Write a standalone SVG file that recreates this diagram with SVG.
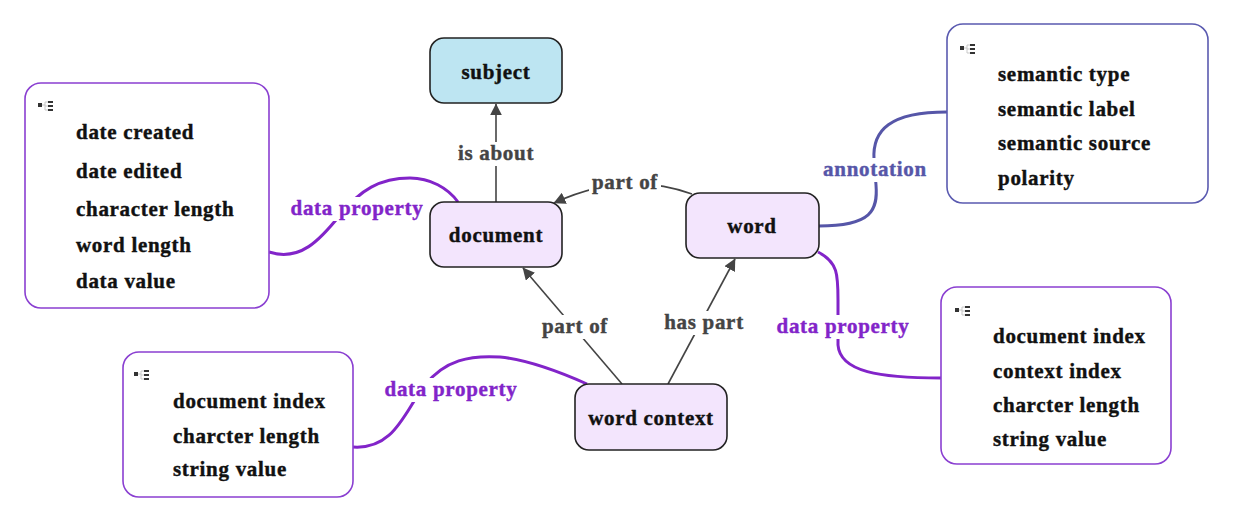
<svg xmlns="http://www.w3.org/2000/svg" width="1233" height="524" viewBox="0 0 1233 524">
<style>
text{font-family:"Liberation Serif","Times New Roman",serif;font-weight:bold;font-size:21px;letter-spacing:0.7px}
.node rect{stroke:#222;stroke-width:1.6}
.nt{text-anchor:middle;fill:#111;stroke:#111;stroke-width:0.4}
.box{fill:#fff;stroke-width:1.6}
.pb{stroke:#8a3fd1}
.bb{stroke:#5a5ab0}
.it{fill:#111;stroke:#111;stroke-width:0.4}
.bg{fill:#fff}
.lbl{text-anchor:middle;stroke-width:0.4}
.gl{fill:#444;stroke:#444}
.pl{fill:#8224c9;stroke:#8224c9}
.bl{fill:#5656a8;stroke:#5656a8}
.e{fill:none;stroke:#444;stroke-width:1.6}
.pe{fill:none;stroke:#8224c9;stroke-width:3}
.be{fill:none;stroke:#5656a8;stroke-width:3}
</style>
<defs>
<marker id="arr" viewBox="0 0 10 10" refX="9.5" refY="5" markerWidth="12" markerHeight="12" markerUnits="userSpaceOnUse" orient="auto">
<path d="M0,0 L10,5 L0,10 z" fill="#444"/>
</marker>
<g id="icon">
<rect x="0" y="2" width="4" height="4" fill="#333"/>
<path d="M4,4 H7 M7,1 V9 M7,1 H10 M7,5 H10 M7,9 H10" stroke="#bbb" stroke-width="0.8" fill="none"/>
<rect x="10" y="0" width="5" height="2" fill="#333"/>
<rect x="10" y="4" width="5" height="2" fill="#333"/>
<rect x="10" y="8" width="5" height="2" fill="#333"/>
</g>
</defs>

<g id="connectors">
<path class="e" d="M496,202 V104" marker-end="url(#arr)"/>
<path class="e" d="M692,194 Q625,170 554,203" marker-end="url(#arr)"/>
<path class="e" d="M622,384 L523,268" marker-end="url(#arr)"/>
<path class="e" d="M668,384 L735,259" marker-end="url(#arr)"/>
<path class="pe" d="M269,252 C300,262 320,240 340,215 C360,190 380,178 410,178 C430,178 448,188 458,202"/>
<path class="pe" d="M353,447 C395,450 405,410 425,385 C445,360 470,355 500,357 C530,360 560,372 587,384"/>
<path class="pe" d="M818,252 C838,262 838,275 838,300 L838,345 C840,372 880,378 941,378"/>
<path class="be" d="M819,226 C872,226 878,210 876,185 L874,160 C872,130 890,112 947,112"/>
<rect class="bg" x="457" y="142" width="78" height="24"/>
<rect class="bg" x="589" y="171" width="72" height="24"/>
<rect class="bg" x="539" y="315" width="72" height="24"/>
<rect class="bg" x="662" y="311" width="84" height="24"/>
<rect class="bg" x="289" y="197" width="136" height="24"/>
<rect class="bg" x="383" y="378" width="136" height="24"/>
<rect class="bg" x="775" y="315" width="136" height="24"/>
<rect class="bg" x="820" y="158" width="110" height="24"/>
<text class="lbl gl" x="496" y="160">is about</text>
<text class="lbl gl" x="625" y="189">part of</text>
<text class="lbl gl" x="575" y="333">part of</text>
<text class="lbl gl" x="704" y="329">has part</text>
<text class="lbl pl" x="357" y="215">data property</text>
<text class="lbl pl" x="451" y="396">data property</text>
<text class="lbl pl" x="843" y="333">data property</text>
<text class="lbl bl" x="875" y="176">annotation</text>
</g>

<g id="subject" class="node">
<rect x="430" y="38" width="132" height="65" rx="14" fill="#bde5f2"/>
<text class="nt" x="496" y="79">subject</text>
</g>
<g id="document" class="node">
<rect x="430" y="202" width="132" height="65" rx="14" fill="#f3e5fd"/>
<text class="nt" x="496" y="242">document</text>
</g>
<g id="word" class="node">
<rect x="686" y="193" width="133" height="65" rx="14" fill="#f3e5fd"/>
<text class="nt" x="752" y="233">word</text>
</g>
<g id="word-context" class="node">
<rect x="575" y="384" width="152" height="66" rx="14" fill="#f3e5fd"/>
<text class="nt" x="651" y="425">word context</text>
</g>

<g id="document-properties">
<rect class="box pb" x="25" y="83" width="244" height="225" rx="16"/>
<use href="#icon" x="38" y="101"/>
<text class="it" x="76" y="139">date created</text>
<text class="it" x="76" y="178">date edited</text>
<text class="it" x="76" y="216">character length</text>
<text class="it" x="76" y="252">word length</text>
<text class="it" x="76" y="288">data value</text>
</g>

<g id="word-context-properties">
<rect class="box pb" x="123" y="352" width="230" height="145" rx="16"/>
<use href="#icon" x="134" y="370"/>
<text class="it" x="173" y="408">document index</text>
<text class="it" x="173" y="443">charcter length</text>
<text class="it" x="173" y="476">string value</text>
</g>

<g id="annotation-properties">
<rect class="box bb" x="947" y="24" width="261" height="179" rx="16"/>
<use href="#icon" x="960" y="44"/>
<text class="it" x="998" y="81">semantic type</text>
<text class="it" x="998" y="116">semantic label</text>
<text class="it" x="998" y="150">semantic source</text>
<text class="it" x="998" y="185">polarity</text>
</g>

<g id="word-properties">
<rect class="box pb" x="941" y="287" width="230" height="177" rx="16"/>
<use href="#icon" x="955" y="306"/>
<text class="it" x="993" y="343">document index</text>
<text class="it" x="993" y="378">context index</text>
<text class="it" x="993" y="412">charcter length</text>
<text class="it" x="993" y="446">string value</text>
</g>
</svg>
